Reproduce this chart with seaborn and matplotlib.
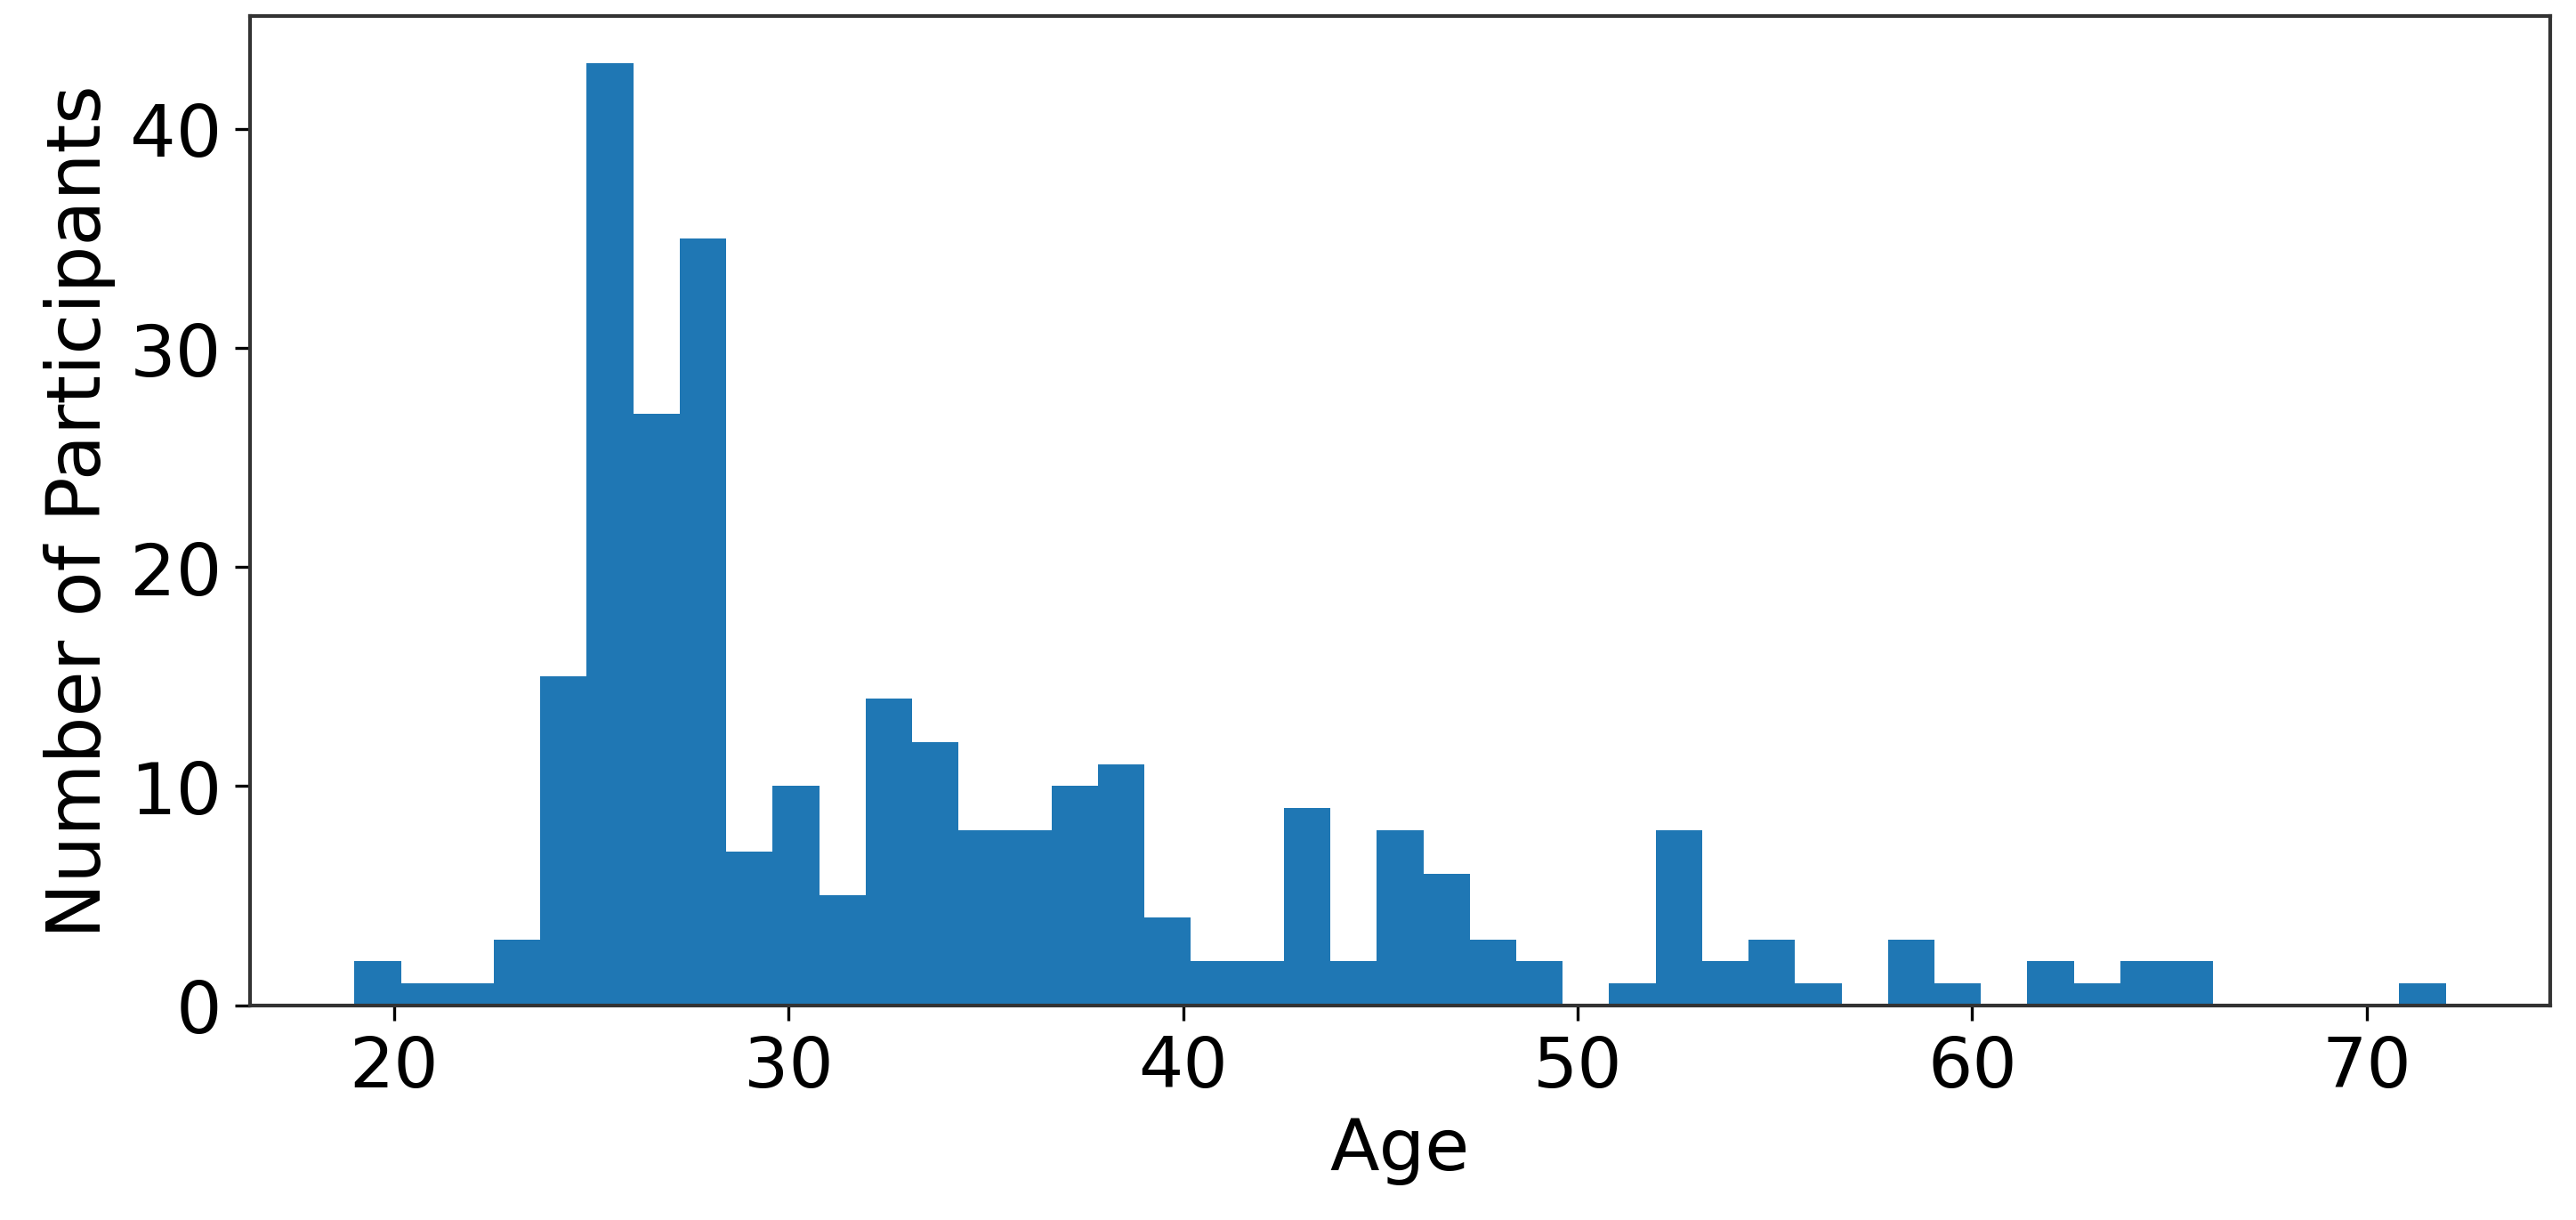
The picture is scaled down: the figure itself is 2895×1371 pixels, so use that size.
import numpy as np
import pandas as pd
import seaborn as sns
import matplotlib
matplotlib.use("Agg")
import matplotlib.pyplot as plotter

# histogram of participant ages, 45 bins between 19 and 72
age_min = 19
age_max = 72
bin_count = 45
counts = [2, 1, 1, 3, 15, 43, 27, 35, 7, 10, 5, 14, 12, 8, 8, 10, 11, 4, 2, 2,
          9, 2, 8, 6, 3, 2, 0, 1, 8, 2, 3, 1, 0, 3, 1, 0, 2, 1, 2, 2,
          0, 0, 0, 0, 1]
y_ticks = [0, 10, 20, 30, 40]

edges = np.linspace(age_min, age_max, bin_count + 1)
centers = (edges[:-1] + edges[1:]) / 2
age_data = pd.DataFrame({"Age": centers, "Count": counts})

sns.set_style("ticks")
plotter.rcParams['font.family'] = ['DejaVu Sans']
plotter.rcParams['axes.edgecolor'] = '#333333'
plotter.rcParams['text.color'] = 'black'
plotter.rcParams['axes.labelcolor'] = 'black'
plotter.rcParams['xtick.color'] = 'black'
plotter.rcParams['ytick.color'] = 'black'

fig = plotter.figure(figsize=(9.65, 4.5733), dpi=300)
ax = fig.add_axes([0.097, 0.176, 0.893, 0.81])
sns.histplot(data=age_data, x="Age", weights="Count", bins=bin_count,
             binrange=(age_min, age_max), color="#1f77b4", alpha=1,
             linewidth=0, ax=ax)
ax.margins(x=0.05, y=0.05)
ax.set_xlabel("Age", fontsize=19.5)
ax.set_ylabel("Number of Participants", fontsize=20)
ax.tick_params(axis='x', labelsize=19, length=4, width=0.8)
ax.tick_params(axis='y', labelsize=19.5, length=4, width=0.8)
for spine in ax.spines.values():
    spine.set_visible(True)
    spine.set_linewidth(1.0)
ax.set_yticks(y_ticks)
plotter.savefig("out.png", dpi=300)
